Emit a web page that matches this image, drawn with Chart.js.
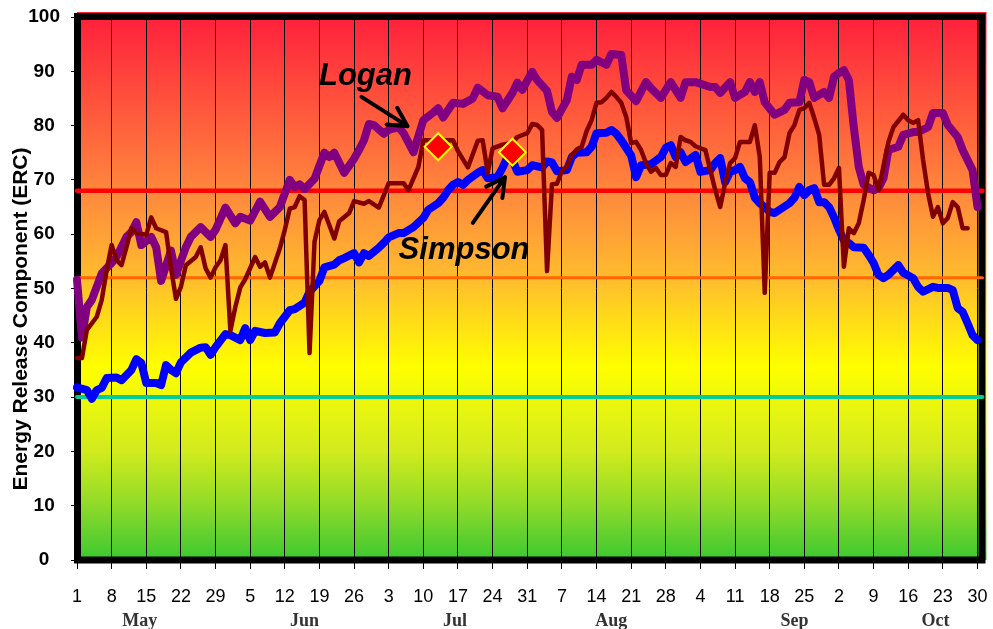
<!DOCTYPE html>
<html>
<head>
<meta charset="utf-8">
<script src="https://cdn.jsdelivr.net/npm/chart.js@4"></script>
<style>
  html, body { margin: 0; padding: 0; background: #fff; }
</style>
</head>
<body>
<canvas id="chart" width="993" height="629"></canvas>
<script>
// day index 0 = May 1, 182 = Oct 30
const loganDay = [0, 1, 2, 3, 5, 7, 8, 10, 11, 12, 13, 15, 16, 17, 19, 20, 22, 23, 25, 27, 28, 30, 32, 33, 35, 37, 39, 41, 43, 44, 45, 46, 48, 50, 51, 52, 54, 56, 57, 58, 59, 60, 62, 63, 65, 66, 68, 70, 72, 73, 74, 76, 78, 80, 81, 83, 85, 86, 88, 89, 90, 92, 93, 95, 96, 97, 99, 100, 101, 102, 104, 105, 107, 108, 110, 111, 113, 115, 116, 118, 120, 122, 123, 125, 128, 129, 130, 132, 133, 135, 136, 137, 138, 139, 141, 143, 144, 146, 147, 148, 149, 151, 152, 153, 154, 155, 156, 157, 158, 159, 161, 162, 163, 164, 166, 167, 169, 170, 172, 173, 175, 176, 178, 179, 181, 182, 183];
const loganErc = [51.6, 41, 46.6, 47.9, 52.8, 54.7, 55.8, 59.5, 60.4, 62.2, 58, 59.5, 57.6, 51.4, 57, 52.5, 57.6, 59.5, 61.3, 59.5, 60.8, 64.9, 62, 63.2, 62.5, 66, 63.2, 65, 70, 68.7, 69.2, 68.3, 70.2, 75, 74.2, 75, 71.3, 73.9, 75.5, 77.3, 80.3, 80.1, 78.5, 79.2, 79.7, 78.6, 75.1, 81, 82.4, 83.2, 81.5, 84.2, 84, 85, 87, 85.6, 85.3, 83.2, 86, 87.9, 86.6, 89.9, 88.4, 86.4, 82.5, 81.4, 84.7, 89, 88.4, 91.2, 91.2, 92.1, 91.2, 93.2, 93, 86.5, 84.5, 88, 86.9, 85.1, 88, 85.1, 88, 88, 87.1, 87.1, 86, 88, 85.1, 86.2, 88, 86.2, 88, 84.3, 82, 82.9, 84.2, 84.3, 88.4, 88, 85.1, 86.2, 85.1, 89, 89.7, 90.2, 88.4, 79.7, 72.4, 69.1, 68.1, 68.5, 70.3, 75.5, 76.1, 78.3, 78.8, 78.8, 79.7, 82.3, 82.3, 80.1, 77.9, 75.5, 71.8, 65, 71.8];

const simpsonDay = [0, 2, 3, 4, 5, 6, 8, 9, 11, 12, 13, 14, 16, 17, 18, 19, 20, 21, 23, 25, 26, 27, 28, 30, 31, 33, 34, 35, 36, 38, 40, 41, 43, 44, 46, 47, 49, 50, 52, 53, 54, 56, 57, 58, 59, 61, 62, 63, 65, 66, 68, 70, 71, 73, 74, 75, 76, 77, 78, 79, 81, 82, 83, 85, 86, 87, 88, 89, 91, 92, 94, 95, 96, 97, 99, 100, 101, 103, 104, 105, 107, 108, 109, 110, 112, 113, 114, 116, 118, 119, 120, 121, 122, 123, 125, 126, 128, 129, 130, 131, 132, 133, 134, 135, 136, 137, 138, 139, 140, 141, 142, 144, 145, 146, 147, 148, 149, 150, 151, 152, 153, 154, 155, 156, 157, 159, 160, 161, 162, 163, 164, 166, 167, 169, 170, 171, 173, 174, 176, 177, 178, 179, 180, 181, 182, 183];
const simpsonErc = [31.8, 31.3, 29.7, 31.3, 31.7, 33.5, 33.6, 33.1, 35, 37, 36.3, 32.6, 32.6, 32.2, 35.9, 35, 34.4, 36.4, 38.2, 39.1, 39.2, 37.8, 39.2, 41.6, 41.4, 40.5, 42.7, 40.5, 42.2, 41.8, 41.9, 43.6, 46, 46.2, 47.4, 49.4, 51.4, 53.9, 54.4, 55.2, 55.6, 56.5, 54.8, 56.5, 56, 57.5, 58.4, 59.4, 60.2, 60.2, 61.3, 63, 64.5, 65.7, 66.7, 68.1, 69.1, 69.6, 69.1, 70, 71.3, 71.8, 70.3, 70.5, 72.2, 74.2, 73.7, 71.5, 71.8, 72.7, 72.3, 73.4, 73.2, 71.6, 71.8, 74.2, 75, 75.1, 76.1, 78.6, 78.7, 79.2, 78.5, 77.3, 74.5, 70.5, 72.7, 72.9, 74.2, 75.9, 76.4, 74.2, 75.1, 73.3, 74.6, 71.5, 71.8, 73.1, 74, 69.6, 71.5, 71.8, 72.4, 70.3, 69.6, 66.7, 65.7, 65, 64.1, 63.9, 64.5, 65.7, 66.7, 68.7, 67.2, 68.1, 68.5, 65.9, 65.9, 65, 63.1, 60.8, 58.9, 58.4, 57.6, 57.5, 56.2, 54.7, 52.5, 51.9, 52.5, 54.3, 52.9, 51.9, 50.3, 49.4, 50.3, 50.1, 50.1, 49.7, 46.4, 45.7, 43.6, 41.4, 40.5, 42.7];

// unlabelled dark red line
const avgDay = [0, 1, 2, 4, 5, 6, 7, 8, 9, 10, 11, 12, 14, 15, 16, 18, 19, 20, 21, 22, 24, 25, 26, 27, 28, 29, 30, 31, 32, 33, 34, 36, 37, 38, 39, 41, 42, 43, 44, 45, 46, 47, 48, 49, 50, 52, 53, 55, 56, 58, 59, 61, 63, 66, 67, 69, 70, 73, 76, 77, 79, 81, 82, 83, 84, 86, 88, 89, 91, 92, 93, 94, 95, 96, 97, 98, 99, 100, 101, 102, 103, 104, 105, 106, 107, 108, 109, 110, 111, 112, 113, 114, 115, 116, 117, 118, 119, 120, 121, 122, 123, 124, 125, 127, 128, 129, 130, 131, 132, 133, 134, 136, 137, 138, 139, 140, 141, 142, 143, 144, 145, 146, 147, 148, 149, 150, 151, 152, 153, 154, 155, 156, 157, 158, 159, 160, 161, 162, 164, 165, 167, 168, 169, 170, 171, 172, 173, 174, 175, 176, 177, 178, 179, 180];
const avgErc = [37.2, 37.2, 42.4, 44.8, 47.9, 53.4, 58, 55.2, 54.3, 57.6, 61.1, 60.2, 59.9, 63.1, 61.1, 60.4, 53.8, 48.1, 50.3, 54.3, 55.8, 57.6, 53.7, 52, 53.9, 55.2, 58, 42.2, 46.6, 50.2, 51.7, 55.8, 54, 54.8, 52, 57.4, 60.8, 64.7, 65, 67, 66.3, 38.1, 58.6, 62.6, 64.1, 59.2, 62.4, 63.9, 66.1, 65.6, 66.1, 64.9, 69.4, 69.4, 68.1, 72.4, 77.3, 77.3, 77.3, 75.3, 72.3, 77.2, 77.3, 71.3, 75.8, 76.5, 76.8, 77.9, 78.6, 80.3, 80.1, 79.2, 53.2, 69.2, 69.3, 71.6, 72.4, 74.5, 75.6, 76.1, 79, 81, 84.2, 84.3, 85.1, 86.2, 85.3, 84.2, 81.6, 76.8, 77, 75.5, 73.1, 71.5, 72.2, 70.9, 70.9, 73.1, 72.4, 77.9, 77.3, 77, 76.2, 75.5, 71.8, 68.1, 65, 69.4, 73.1, 74, 77, 77, 80.1, 74.2, 49.2, 71.3, 71.3, 73.3, 74.2, 78.6, 80.1, 82.9, 83.2, 84.2, 81.4, 78.3, 69.1, 69.1, 70.3, 72.2, 54, 61.1, 60.2, 62, 66.3, 71.3, 70.9, 68.1, 77, 79.7, 82, 81, 80.5, 81, 73.7, 67.6, 63.2, 65, 62, 63, 65.9, 65, 61.1, 61.1];

const markerDay = [73, 88];
const markerErc = [76.1, 75.1];

const thresholds = [68, 52, 30];
const thresholdColors = ['#FF0000', '#FF6600', '#00CC99'];
const thresholdWidths = [4.5, 3, 4];

const monthNames = ['May', 'Jun', 'Jul', 'Aug', 'Sep', 'Oct'];
const monthTickDays = [12.7, 46, 76.4, 108, 145, 173.5];

const notes = [
    { text: 'Logan', at: [48.9, 87.5], from: [57.5, 85.3], to: [66.8, 79.9] },
    { text: 'Simpson', at: [65, 55.4], from: [80, 62.1], to: [86.5, 70.5] }
];

const bgStops = [
    [0, '#FF1E3C'], [0.34, '#FF8C3C'], [0.49, '#FFBE2D'], [0.647, '#FFFF00'],
    [0.8, '#D2EB1E'], [0.89, '#96DC28'], [1, '#3CC832']
];

const sans = '"Liberation Sans", Arial, sans-serif';
const pts = (days, vals) => days.map((d, i) => ({ x: d, y: vals[i] }));

const backdrop = {
    id: 'backdrop',
    beforeDraw(chart) {
        const { ctx, chartArea: a } = chart;
        ctx.save();
        ctx.fillStyle = '#fff';
        ctx.fillRect(0, 0, chart.width, chart.height);
        const g = ctx.createLinearGradient(0, a.top - 4, 0, a.bottom);
        bgStops.forEach(([t, c]) => g.addColorStop(t, c));
        ctx.fillStyle = g;
        ctx.fillRect(a.left, a.top - 5, a.right - a.left + 9, a.bottom - a.top + 5);
        ctx.restore();
    },
    beforeDatasetsDraw(chart) {
        const { ctx, chartArea: a } = chart;
        ctx.save();
        ctx.strokeStyle = '#000';
        ctx.lineWidth = 7;
        ctx.strokeRect(a.left + 0.5, a.top - 0.5, a.right - a.left + 4, a.bottom - a.top + 0.5);
        ctx.restore();
    }
};

const drawArrow = (ctx, x1, y1, x2, y2) => {
    const ang = Math.atan2(y2 - y1, x2 - x1);
    ctx.beginPath();
    ctx.moveTo(x1, y1);
    ctx.lineTo(x2, y2);
    for (const s of [-1, 1]) {
        ctx.moveTo(x2, y2);
        ctx.lineTo(x2 + 21 * Math.cos(ang + Math.PI + s * 0.49), y2 + 21 * Math.sin(ang + Math.PI + s * 0.49));
    }
    ctx.stroke();
};

const annotate = {
    id: 'annotate',
    afterDatasetsDraw(chart) {
        const { ctx, scales: { x, y } } = chart;
        ctx.save();
        ctx.fillStyle = '#000';
        ctx.strokeStyle = '#000';
        ctx.lineWidth = 4;
        ctx.lineCap = 'round';
        ctx.font = 'italic bold 31px ' + sans;
        for (const n of notes) {
            ctx.fillText(n.text, x.getPixelForValue(n.at[0]), y.getPixelForValue(n.at[1]));
            drawArrow(ctx,
                x.getPixelForValue(n.from[0]), y.getPixelForValue(n.from[1]),
                x.getPixelForValue(n.to[0]), y.getPixelForValue(n.to[1]));
        }
        ctx.restore();
    },
    afterDraw(chart) {
        const { ctx, scales: { x } } = chart;
        ctx.save();
        ctx.fillStyle = '#333';
        ctx.font = 'bold 18px "Liberation Serif", "Times New Roman", serif';
        ctx.textAlign = 'center';
        monthNames.forEach((m, i) => ctx.fillText(m, x.getPixelForValue(monthTickDays[i]), 626));
        ctx.fillStyle = '#000';
        ctx.font = 'bold 21px ' + sans;
        ctx.translate(27, 319);
        ctx.rotate(-Math.PI / 2);
        ctx.fillText('Energy Release Component (ERC)', 0, 0);
        ctx.restore();
    }
};

const lineSet = (days, vals, color, width) => ({
    data: pts(days, vals),
    borderColor: color,
    borderWidth: width,
    pointRadius: 0,
    borderJoinStyle: 'round',
    borderCapStyle: 'round',
    clip: false
});

new Chart(document.getElementById('chart'), {
    type: 'line',
    data: {
        datasets: [
            {
                data: pts(markerDay, markerErc),
                showLine: false,
                pointStyle: 'rectRot',
                pointRadius: 13.5,
                pointBackgroundColor: '#FF0000',
                pointBorderColor: '#FFFF00',
                pointBorderWidth: 2
            },
            lineSet(avgDay, avgErc, '#800000', 4.5),
            lineSet(loganDay, loganErc, '#800080', 8),
            lineSet(simpsonDay, simpsonErc, '#0000FF', 8),
            ...thresholds.map((v, i) => lineSet([0, 183], [v, v], thresholdColors[i], thresholdWidths[i]))
        ]
    },
    options: {
        responsive: false,
        animation: false,
        layout: { padding: { top: 17, right: 9, left: 0, bottom: 0 } },
        plugins: { legend: { display: false }, tooltip: { enabled: false } },
        scales: {
            x: {
                type: 'linear',
                min: 0,
                max: 182,
                afterFit(s) { s.height = 69; s.paddingLeft = 0; s.paddingRight = 0; },
                border: { display: false },
                grid: { color: '#000', lineWidth: 1, borderDash: [2, 2], tickLength: 9, tickBorderDash: [], tickColor: '#000' },
                ticks: {
                    stepSize: 7,
                    autoSkip: false,
                    maxRotation: 0,
                    padding: 17,
                    color: '#000',
                    font: { family: sans, size: 18 },
                    callback: v => new Date(2001, 4, 1 + v).getDate()
                }
            },
            y: {
                min: 0,
                max: 100,
                afterFit(s) { s.width = 77; s.paddingTop = 0; s.paddingBottom = 0; },
                border: { display: false },
                grid: { drawOnChartArea: false, tickLength: 6, color: '#000' },
                ticks: {
                    stepSize: 10,
                    crossAlign: 'center',
                    padding: 11,
                    color: '#000',
                    font: { family: sans, size: 19, weight: 'bold' }
                }
            }
        }
    },
    plugins: [backdrop, annotate]
});
</script>
</body>
</html>
